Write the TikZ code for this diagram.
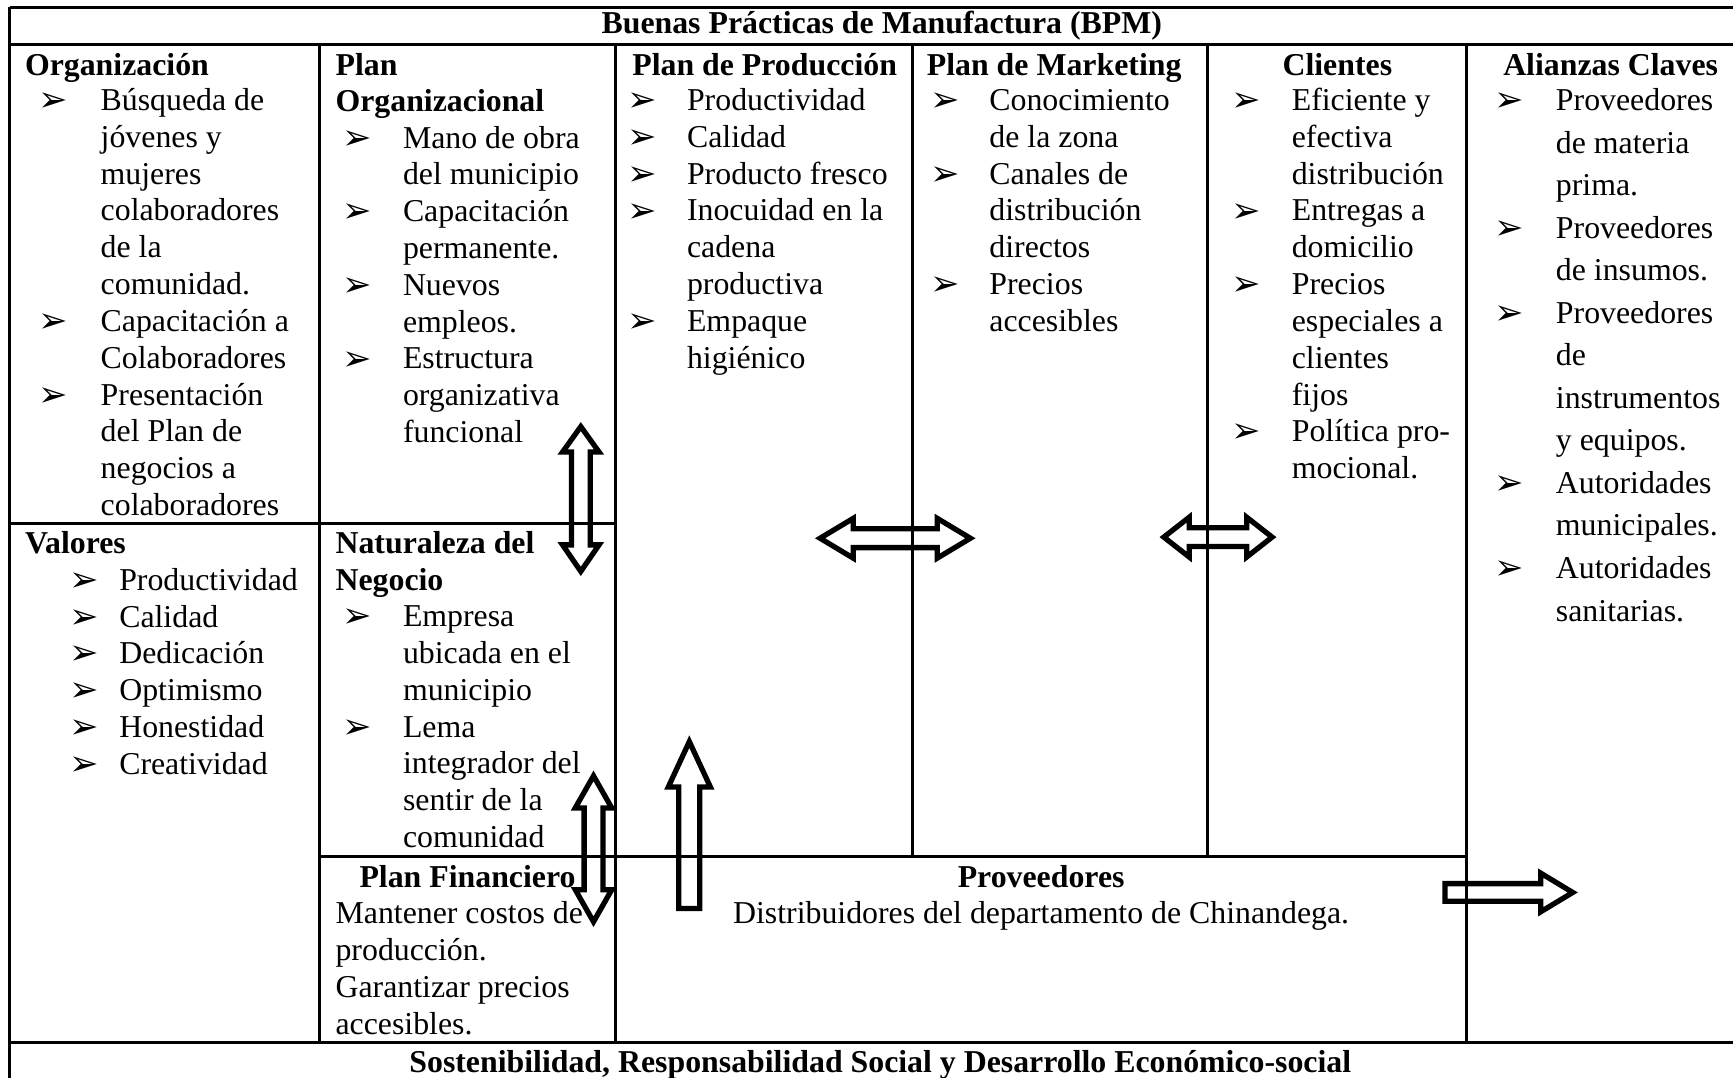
\documentclass[tikz,border=0pt]{standalone}
\usepackage{fontspec}
\setmainfont{Liberation Serif}
\newfontfamily\dvsfont{DejaVu Sans}
\newcommand\fsn{\fontsize{9.05}{10.47}\selectfont}
\newcommand\fsw{\fontsize{9.05}{12.1}\selectfont}
\newcommand\blt[1][9.2pt]{\llap{{\dvsfont\fontsize{10}{10}\selectfont\raisebox{-0.3pt}{➢}}\hspace{#1}}}
\begin{document}
\begin{tikzpicture}[x=0.011052cm,y=-0.011052cm,
  cell/.style={anchor=base west,inner sep=0pt,font=\fsn},
  ccell/.style={anchor=base,inner sep=0pt,font=\fsn},
  grid/.style={line width=0.8pt},
  gridb/.style={line width=0.95pt},
  blockarrow/.style={draw,line width=1.5pt,line join=miter}]
\useasboundingbox (0,0) rectangle (1568,975);
% grid
\draw[gridb] (8.6,6.6) -- (1570,6.6);
\draw[gridb] (8.6,40) -- (1570,40);
\draw[gridb] (8.6,943) -- (1570,943);
\draw[grid] (8.6,6.6) -- (8.6,980);
\draw[grid] (289.1,40) -- (289.1,943);
\draw[grid] (557,40) -- (557,943);
\draw[grid] (825.6,40) -- (825.6,775);
\draw[grid] (1092.8,40) -- (1092.8,775);
\draw[grid] (1327.2,40) -- (1327.2,943);
\draw[grid] (8.6,474) -- (557,474);
\draw[grid] (289.1,775) -- (1327.2,775);
% title and footer
\node[ccell,font=\fsn\bfseries] (title) at (797.8,30) {Buenas Prácticas de Manufactura (BPM)};
\node[ccell,font=\fsn\bfseries] (foot) at (796.5,970) {Sostenibilidad, Responsabilidad Social y Desarrollo Económico-social};
% column 1
\node[cell,font=\fsn\bfseries] (orgH) at (22,68) {Organización};
\node[cell] (orgL) at (90.5,100) {\begin{tabular}[t]{@{}l@{}}
\blt[9.2pt]Búsqueda de\\ jóvenes y\\ mujeres\\ colaboradores\\ de la\\ comunidad.\\
\blt[9.2pt]Capacitación a\\ Colaboradores\\
\blt[9.2pt]Presentación\\ del Plan de\\ negocios a\\ colaboradores\end{tabular}};
\node[cell,font=\fsn\bfseries] (valH) at (22,501) {Valores};
\node[cell] (valL) at (107.3,534) {\begin{tabular}[t]{@{}l@{}}
\blt[5.7pt]Productividad\\ \blt[5.7pt]Calidad\\ \blt[5.7pt]Dedicación\\
\blt[5.7pt]Optimismo\\ \blt[5.7pt]Honestidad\\ \blt[5.7pt]Creatividad\end{tabular}};
% column 2
\node[cell,font=\fsn\bfseries] (poH) at (303,68) {\begin{tabular}[t]{@{}l@{}}Plan\\ Organizacional\end{tabular}};
\node[cell] (poL) at (364,134) {\begin{tabular}[t]{@{}l@{}}
\blt[8.9pt]Mano de obra\\ del municipio\\ \blt[8.9pt]Capacitación\\ permanente.\\
\blt[8.9pt]Nuevos\\ empleos.\\ \blt[8.9pt]Estructura\\ organizativa\\ funcional\end{tabular}};
\node[cell,font=\fsn\bfseries] (natH) at (303,501) {\begin{tabular}[t]{@{}l@{}}Naturaleza del\\ Negocio\end{tabular}};
\node[cell] (natL) at (364,567) {\begin{tabular}[t]{@{}l@{}}
\blt[8.9pt]Empresa\\ ubicada en el\\ municipio\\ \blt[8.9pt]Lema\\
integrador del\\ sentir de la\\ comunidad\end{tabular}};
\node[ccell,font=\fsn\bfseries] (finH) at (423,803) {Plan Financiero};
\node[cell] (finL) at (303,836) {\begin{tabular}[t]{@{}l@{}}
Mantener costos de\\ producción.\\ Garantizar precios\\ accesibles.\end{tabular}};
% column 3
\node[cell,font=\fsn\bfseries] (prH) at (571.5,68) {Plan de Producción};
\node[cell] (prL) at (621,100) {\begin{tabular}[t]{@{}l@{}}
\blt[8.7pt]Productividad\\ \blt[8.7pt]Calidad\\ \blt[8.7pt]Producto fresco\\
\blt[8.7pt]Inocuidad en la\\ cadena\\ productiva\\ \blt[8.7pt]Empaque\\ higiénico\end{tabular}};
% column 4
\node[cell,font=\fsn\bfseries] (mkH) at (838,68) {Plan de Marketing};
\node[cell] (mkL) at (894.6,100) {\begin{tabular}[t]{@{}l@{}}
\blt[8.4pt]Conocimiento\\ de la zona\\ \blt[8.4pt]Canales de\\ distribución\\ directos\\
\blt[8.4pt]Precios\\ accesibles\end{tabular}};
% column 5
\node[ccell,font=\fsn\bfseries] (clH) at (1210,68) {Clientes};
\node[cell] (clL) at (1168.2,100) {\begin{tabular}[t]{@{}l@{}}
\blt[8.8pt]Eficiente y\\ efectiva\\ distribución\\ \blt[8.8pt]Entregas a\\ domicilio\\
\blt[8.8pt]Precios\\ especiales a\\ clientes\\ fijos\\ \blt[8.8pt]Política pro-\\ mocional.\end{tabular}};
% column 6
\node[cell,font=\fsn\bfseries] (alH) at (1359.5,68) {Alianzas Claves};
\node[cell,font=\fsw] (alL) at (1407.2,100) {\begin{tabular}[t]{@{}l@{}}
\blt[9.0pt]Proveedores\\ de materia\\ prima.\\ \blt[9.0pt]Proveedores\\ de insumos.\\
\blt[9.0pt]Proveedores\\ de\\ instrumentos\\ y equipos.\\ \blt[9.0pt]Autoridades\\
municipales.\\ \blt[9.0pt]Autoridades\\ sanitarias.\end{tabular}};
% proveedores
\node[ccell,font=\fsn\bfseries] (provH) at (942,803) {Proveedores};
\node[ccell] (provL) at (942,836) {Distribuidores del departamento de Chinandega.};
% block arrows
\draw[blockarrow] (525.5,386) -- (542,409) -- (534,409) -- (534,493) -- (542,493) -- (525.5,517)
  -- (509,493) -- (517,493) -- (517,409) -- (509,409) -- cycle;
\draw[blockarrow] (537,702) -- (553.5,731) -- (545.5,731) -- (545.5,805) -- (553.5,805) -- (537,834)
  -- (520.5,805) -- (528.5,805) -- (528.5,731) -- (520.5,731) -- cycle;
\draw[blockarrow] (623.7,671) -- (642.7,712) -- (633.2,712) -- (633.2,822) -- (614.2,822)
  -- (614.2,712) -- (604.7,712) -- cycle;
\draw[blockarrow] (742,487) -- (772,469) -- (772,478.5) -- (848,478.5) -- (848,469) -- (878,487)
  -- (848,505) -- (848,495.5) -- (772,495.5) -- (772,505) -- cycle;
\draw[blockarrow] (1053,486) -- (1076,468) -- (1076,477.5) -- (1128,477.5) -- (1128,468) -- (1151,486)
  -- (1128,504) -- (1128,494.5) -- (1076,494.5) -- (1076,504) -- cycle;
\draw[blockarrow] (1307.5,799.5) -- (1394,799.5) -- (1394,790) -- (1423,807.5) -- (1394,825)
  -- (1394,815.5) -- (1307.5,815.5) -- cycle;
\end{tikzpicture}
\end{document}
